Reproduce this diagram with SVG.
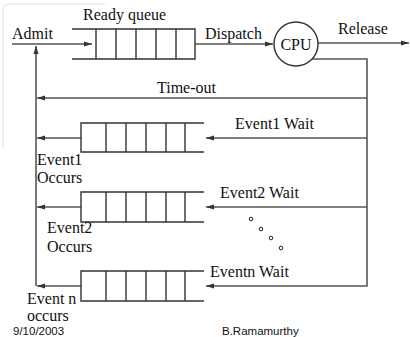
<svg xmlns="http://www.w3.org/2000/svg" width="410" height="337" viewBox="0 0 410 337">
<defs>
<marker id="ah" markerWidth="8" markerHeight="6" refX="8" refY="3" orient="auto" markerUnits="userSpaceOnUse">
<path d="M0,0.5 L8,3 L0,5.5 Z" fill="#333"/>
</marker>
<style>
.ln{stroke:#555;stroke-width:1.6;fill:none}
.q{stroke:#333;stroke-width:1.4;fill:none}
.t{font-family:"Liberation Serif","Times New Roman",serif;font-size:16px;fill:#111}
.s{font-family:"Liberation Sans",Arial,sans-serif;font-size:11.5px;fill:#111}
.dot{fill:none;stroke:#222;stroke-width:1}
.frame{stroke:#ddd;stroke-width:1;fill:none}
</style>
</defs>
<rect width="410" height="337" fill="#fff"/>
<g id="frame">
<path class="frame" d="M3,148 L3,10 Q3,4 9,4 L105,4"/>
</g>
<g id="connectors">
<line class="ln" x1="12" y1="44" x2="92" y2="44" marker-end="url(#ah)"/>
<line class="ln" x1="195" y1="44" x2="273" y2="44" marker-end="url(#ah)"/>
<line class="ln" x1="318" y1="43" x2="409" y2="43" marker-end="url(#ah)"/>
<polyline class="ln" points="312,59 367,59 367,286 206,286" marker-end="url(#ah)"/>
<line class="ln" x1="367" y1="98" x2="37" y2="98" marker-end="url(#ah)"/>
<line class="ln" x1="367" y1="138" x2="206" y2="138" marker-end="url(#ah)"/>
<line class="ln" x1="367" y1="207" x2="206" y2="207" marker-end="url(#ah)"/>
<line class="ln" x1="81" y1="138" x2="37" y2="138" marker-end="url(#ah)"/>
<line class="ln" x1="81" y1="207" x2="37" y2="207" marker-end="url(#ah)"/>
<line class="ln" x1="81" y1="286" x2="37" y2="286" marker-end="url(#ah)"/>
<line class="ln" x1="36" y1="286" x2="36" y2="46" marker-end="url(#ah)"/>
</g>
<g id="ready-queue">
<path class="q" d="M72,29 H195 V59 H72 M96,29 V59 M116,29 V59 M136,29 V59 M156,29 V59 M176,29 V59"/>
<text class="t" x="83" y="20">Ready queue</text>
</g>
<g id="cpu">
<circle cx="296" cy="44" r="22" fill="#fff" stroke="#333" stroke-width="1.4"/>
<text class="t" x="296" y="50" text-anchor="middle">CPU</text>
</g>
<g id="event1-queue">
<path class="q" d="M204,123 H81 V152 H204 M106,123 V152 M126,123 V152 M146,123 V152 M166,123 V152 M185,123 V152"/>
</g>
<g id="event2-queue">
<path class="q" d="M204,192 H81 V222 H204 M106,192 V222 M126,192 V222 M146,192 V222 M166,192 V222 M185,192 V222"/>
</g>
<g id="eventn-queue">
<path class="q" d="M204,271 H81 V301 H204 M106,271 V301 M126,271 V301 M146,271 V301 M166,271 V301 M185,271 V301"/>
</g>
<g id="dots">
<circle class="dot" cx="251" cy="219" r="1.8"/>
<circle class="dot" cx="261" cy="229" r="1.8"/>
<circle class="dot" cx="271" cy="238" r="1.8"/>
<circle class="dot" cx="281" cy="248" r="1.8"/>
</g>
<g id="labels">
<text class="t" x="12" y="39">Admit</text>
<text class="t" x="205" y="39">Dispatch</text>
<text class="t" x="338" y="34">Release</text>
<text class="t" x="157" y="93">Time-out</text>
<text class="t" x="235" y="129">Event1 Wait</text>
<text class="t" x="220" y="198">Event2 Wait</text>
<text class="t" x="210" y="277">Eventn Wait</text>
<text class="t" x="37" y="165">Event1</text>
<text class="t" x="37" y="183">Occurs</text>
<text class="t" x="47" y="233">Event2</text>
<text class="t" x="47" y="252">Occurs</text>
<text class="t" x="27" y="304">Event n</text>
<text class="t" x="27" y="321">occurs</text>
<text class="s" x="13" y="335">9/10/2003</text>
<text class="s" x="222" y="335">B.Ramamurthy</text>
</g>
</svg>
